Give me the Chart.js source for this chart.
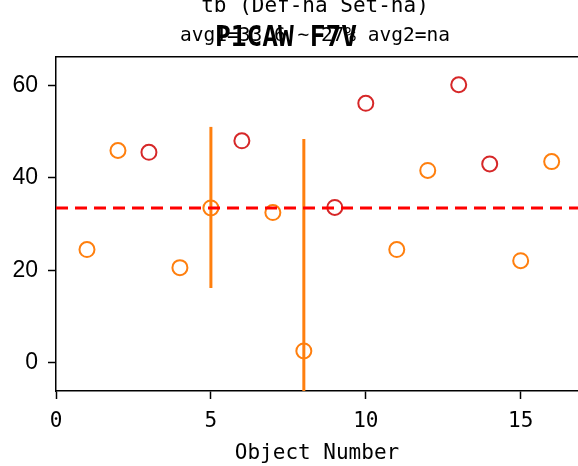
<!DOCTYPE html>
<html>
<head>
<meta charset="utf-8">
<script src="https://cdn.jsdelivr.net/npm/chart.js@4"></script>
<style>
  html, body { margin: 0; padding: 0; background: #fff; overflow: hidden; }
  #wrap { width: 578px; height: 466px; position: relative; }
</style>
</head>
<body>
<div id="wrap"><canvas id="chart"></canvas></div>
<script>
// values
const orangeX = [1, 2, 4, 5, 7, 8, 11, 12, 15, 16];
const orangeY = [24.5, 45.9, 20.6, 33.5, 32.5, 2.6, 24.5, 41.6, 22.1, 43.5];
const redX = [3, 6, 9, 10, 13, 14];
const redY = [45.5, 48.0, 33.6, 56.1, 60.1, 43.0];
const errX = [5, 8];
const errLo = [16.2, -8];
const errHi = [51.0, 48.4];
const avgLine = 33.5;
const xTicks = [0, 5, 10, 15];
const yTicks = [0, 20, 40, 60];
const xRange = [0, 16.85];
const yRange = [-6.05, 66.1];

const ORANGE = '#ff7f0e';
const RED = '#d62728';

const toPts = (xs, ys) => xs.map((x, i) => ({ x: x, y: ys[i] }));

const errSets = errX.map((x, i) => ({
  data: [{ x: x, y: errLo[i] }, { x: x, y: errHi[i] }],
  showLine: true,
  borderColor: ORANGE,
  borderWidth: 3,
  pointRadius: 0,
  order: 3,
}));

// title text, drawn over the top (it overlaps like the original)
const titlePlugin = {
  id: 'titleText',
  afterDraw(chart) {
    const ctx = chart.ctx;
    ctx.save();
    ctx.fillStyle = '#000';
    ctx.textBaseline = 'alphabetic';
    ctx.textAlign = 'center';
    ctx.font = '21px "DejaVu Sans Mono"';
    ctx.fillText('tb (Def-na Set-na)', 315, 12);
    ctx.textAlign = 'left';
    ctx.font = '19.5px "DejaVu Sans Mono"';
    ctx.fillText('avg1=33.6 ~ 27% avg2=na', 180, 41);
    ctx.font = 'bold 26px "DejaVu Sans Mono"';
    const w = ctx.measureText('P1CAW F7V').width;
    ctx.translate(215, 46);
    ctx.scale(142 / w, 1.1);
    ctx.fillText('P1CAW F7V', 0, 0);
    ctx.restore();
  }
};

new Chart(document.getElementById('chart'), {
  type: 'scatter',
  data: {
    datasets: [
      {
        data: [{ x: xRange[0], y: avgLine }, { x: xRange[1], y: avgLine }],
        showLine: true,
        borderColor: '#ff0000',
        borderWidth: 3,
        borderDash: [12, 7],
        pointRadius: 0,
        order: 1,
      },
      {
        data: toPts(orangeX, orangeY),
        pointRadius: 7.5,
        pointBorderWidth: 2,
        pointBorderColor: ORANGE,
        pointBackgroundColor: 'rgba(0,0,0,0)',
        order: 2,
      },
      {
        data: toPts(redX, redY),
        pointRadius: 7.5,
        pointBorderWidth: 2,
        pointBorderColor: RED,
        pointBackgroundColor: 'rgba(0,0,0,0)',
        order: 2,
      },
      ...errSets,
    ]
  },
  options: {
    responsive: true,
    maintainAspectRatio: false,
    animation: false,
    layout: { padding: 0, autoPadding: false },
    plugins: { legend: { display: false }, tooltip: { enabled: false } },
    scales: {
      x: {
        type: 'linear',
        position: 'bottom',
        min: xRange[0], max: xRange[1],
        afterBuildTicks: s => { s.ticks = xTicks.map(v => ({ value: v })); },
        afterFit: s => { s.height = 75; s.paddingLeft = 0; s.paddingRight = 0; },
        grid: { drawOnChartArea: false, drawTicks: true, tickLength: 8, tickColor: '#000', tickWidth: 1.5 },
        border: { display: true, color: '#000', width: 1.5 },
        ticks: { color: '#000', padding: 10, maxRotation: 0, font: { family: '"DejaVu Sans Mono"', size: 21 } },
        title: { display: true, text: 'Object Number', color: '#000', padding: { top: 0, bottom: 0 },
                 font: { family: '"DejaVu Sans Mono"', size: 21 } },
      },
      x2: {
        type: 'linear',
        position: 'top',
        min: xRange[0], max: xRange[1],
        afterFit: s => { s.height = 57; s.paddingLeft = 0; s.paddingRight = 0; },
        grid: { display: false },
        border: { display: true, color: '#000', width: 1.5 },
        ticks: { display: false },
      },
      y: {
        min: yRange[0], max: yRange[1],
        afterBuildTicks: s => { s.ticks = yTicks.map(v => ({ value: v })); },
        afterFit: s => { s.width = 56; },
        grid: { drawOnChartArea: false, drawTicks: true, tickLength: 8, tickColor: '#000', tickWidth: 1.5 },
        border: { display: true, color: '#000', width: 1.5 },
        ticks: { color: '#000', padding: 10, font: { family: '"Liberation Sans"', size: 23 } },
      }
    }
  },
  plugins: [titlePlugin]
});
</script>
</body>
</html>
